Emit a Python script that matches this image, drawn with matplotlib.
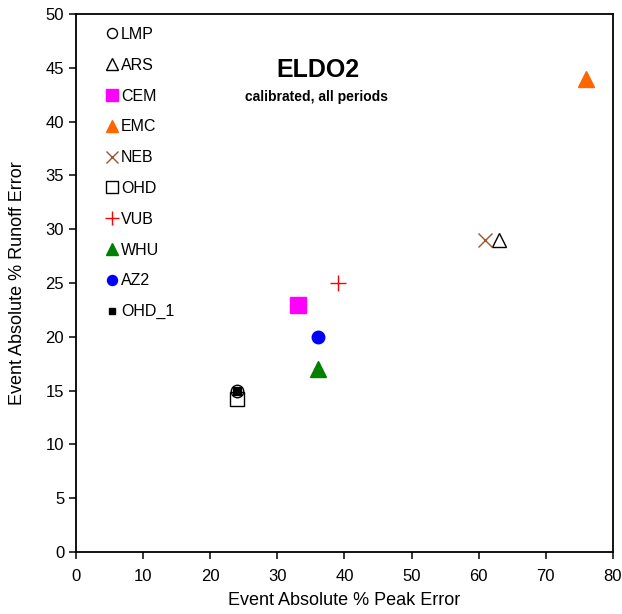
import matplotlib
matplotlib.use("Agg")
import matplotlib.pyplot as plt

plt.rcParams['font.family'] = ['Liberation Sans', 'DejaVu Sans']

names = ["LMP", "ARS", "CEM", "EMC", "NEB", "OHD", "VUB", "WHU", "AZ2", "OHD_1"]
peak_err = [24, 63, 33, 76, 61, 24, 39, 36, 36, 24]
runoff_err = [15, 29, 23, 44, 29, 14.2, 25, 17, 20, 15]

styles = {
    "LMP": dict(marker="o", mfc="none", mec="black", ms=9, mew=1.0),
    "ARS": dict(marker="^", mfc="none", mec="black", ms=10, mew=1.0),
    "CEM": dict(marker="s", mfc="#FF00FF", mec="#FF00FF", ms=11),
    "EMC": dict(marker="^", mfc="#FF6600", mec="#FF6600", ms=11),
    "NEB": dict(marker="x", mfc="none", mec="#A0522D", ms=10, mew=1.0),
    "OHD": dict(marker="s", mfc="none", mec="black", ms=10, mew=1.0),
    "VUB": dict(marker="+", mfc="none", mec="#FF0000", ms=12, mew=1.0),
    "WHU": dict(marker="^", mfc="#008000", mec="#008000", ms=11),
    "AZ2": dict(marker="o", mfc="#0000FF", mec="#0000FF", ms=9),
    "OHD_1": dict(marker="s", mfc="black", mec="black", ms=6),
}

fig = plt.figure(figsize=(6.22, 6.14), dpi=100)
ax = fig.add_axes([0.1222, 0.101, 0.8633, 0.876])

for n, x, y in zip(names, peak_err, runoff_err):
    ax.plot([x], [y], linestyle="none", label=n, **styles[n])

ax.set_xlim(0, 80)
ax.set_ylim(0, 50)
ax.set_xticks(range(0, 81, 10))
ax.set_yticks(range(0, 51, 5))
for s in ax.spines.values():
    s.set_linewidth(1.3)
ax.tick_params(labelsize=12, direction="out", length=5, width=1.1)
ax.tick_params(axis="x", pad=7)
ax.set_xlabel("Event Absolute % Peak Error", fontsize=13, labelpad=6)
ax.set_ylabel("Event Absolute % Runoff Error", fontsize=13, labelpad=14)

ax.text(0.45, 0.897, "ELDO2", transform=ax.transAxes, ha="center", va="center",
        fontsize=18, fontweight="bold")
ax.text(0.447, 0.845, "calibrated, all periods", transform=ax.transAxes, ha="center",
        va="center", fontsize=10, fontweight="bold")

leg = ax.legend(loc="upper left", bbox_to_anchor=(0.035, 1.0), frameon=False,
                fontsize=11.5, handlelength=0.6, handletextpad=0.25,
                labelspacing=0.99, borderaxespad=0.4, numpoints=1,
                markerscale=0.8)

fig.savefig("out.png", dpi=100)
